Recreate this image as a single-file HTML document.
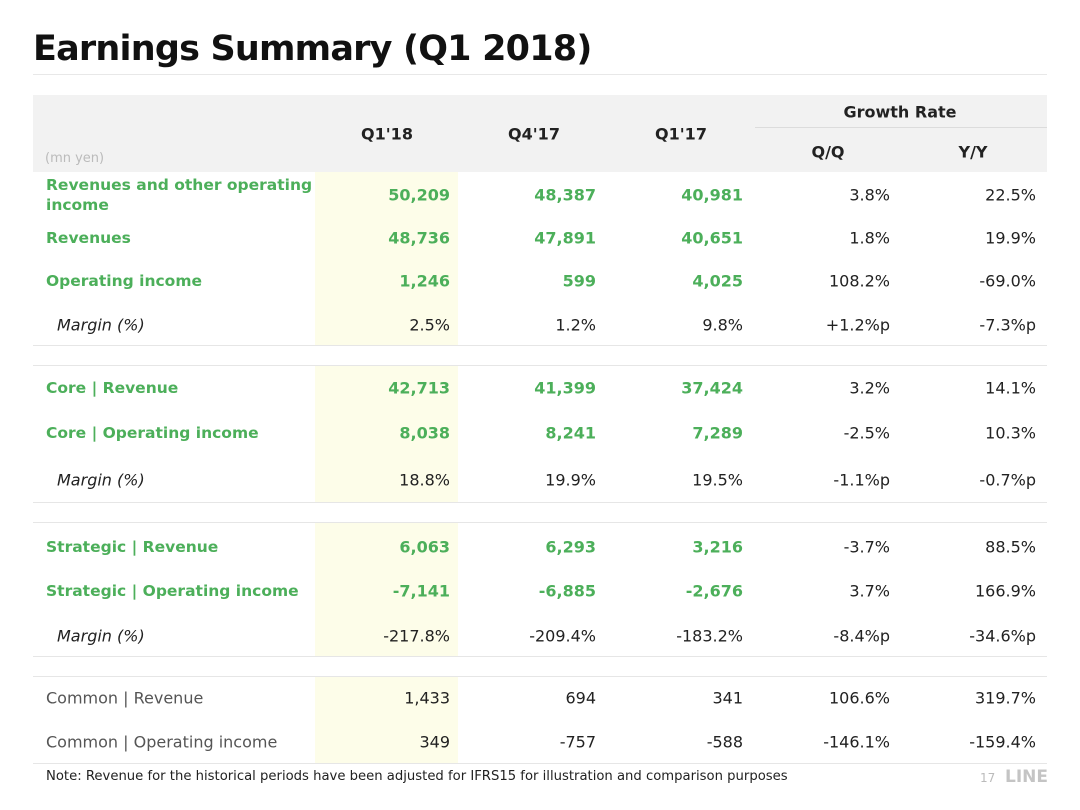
<!DOCTYPE html>
<html><head><meta charset="utf-8"><style>
body{margin:0;width:1080px;height:810px;background:#fff;position:relative;overflow:hidden;font-family:"DejaVu Sans","Liberation Sans",sans-serif;}
.a{position:absolute;white-space:nowrap;}
.t{font-size:35px;font-weight:bold;left:33px;top:29px;color:#111;font-family:"DejaVu Sans",sans-serif;letter-spacing:-0.8px}
.hl{position:absolute;left:315px;width:143px;background:#fdfde9}
.ln{position:absolute;left:33px;width:1014px;height:1px;background:#e6e6e6}
.c{font-size:16px;color:#222;transform:translateY(-50%)}
.g{color:#4caf5a;font-weight:bold}
.h{font-size:16px;font-weight:bold;color:#222;transform:translate(-50%,-50%)}
</style></head><body>
<div class="a t">Earnings Summary (Q1 2018)</div>
<div class="a" style="left:33px;top:74px;width:1014px;height:1px;background:#e8e8e8"></div>
<div class="a" style="left:33px;top:95px;width:1014px;height:77px;background:#f2f2f2"></div>
<div class="a" style="left:755px;top:127px;width:292px;height:1px;background:#dcdcdc"></div>
<div class="a h" style="left:900px;top:112px">Growth Rate</div>
<div class="a h" style="left:387px;top:134px">Q1'18</div>
<div class="a h" style="left:534px;top:134px">Q4'17</div>
<div class="a h" style="left:681px;top:134px">Q1'17</div>
<div class="a h" style="left:828px;top:152px">Q/Q</div>
<div class="a h" style="left:973px;top:152px">Y/Y</div>
<div class="a" style="left:45px;top:151px;font-size:13px;color:#bbb">(mn yen)</div>
<div id="tbl"></div>
<div class="a" style="left:46px;top:769px;font-size:13.2px;color:#222">Note: Revenue for the historical periods have been adjusted for IFRS15 for illustration and comparison purposes</div>
<div class="a" style="left:980px;top:771px;font-size:12px;color:#bbb">17</div>
<div class="a" style="left:1005px;top:767px;font-size:17px;font-weight:bold;color:#c4c4c4">LINE</div>
<script>
const labels=["Revenues and other operating|income","Revenues","Operating income","Margin (%)","Core | Revenue","Core | Operating income","Margin (%)","Strategic | Revenue","Strategic  | Operating income","Margin (%)","Common | Revenue","Common | Operating income"];
const q118=["50,209","48,736","1,246","2.5%","42,713","8,038","18.8%","6,063","-7,141","-217.8%","1,433","349"];
const q417=["48,387","47,891","599","1.2%","41,399","8,241","19.9%","6,293","-6,885","-209.4%","694","-757"];
const q117=["40,981","40,651","4,025","9.8%","37,424","7,289","19.5%","3,216","-2,676","-183.2%","341","-588"];
const qq=["3.8%","1.8%","108.2%","+1.2%p","3.2%","-2.5%","-1.1%p","-3.7%","3.7%","-8.4%p","106.6%","-146.1%"];
const yy=["22.5%","19.9%","-69.0%","-7.3%p","14.1%","10.3%","-0.7%p","88.5%","166.9%","-34.6%p","319.7%","-159.4%"];
const kind=["g","g","g","m","g","g","m","g","g","m","n","n"];
const rowY=[195,238,281,325,388,433,480,547,591,636,698,742];
const bands=[[172,345],[365,502],[522,656],[676,763]];
const lines=[345,365,502,522,656,676,763];
const T=document.getElementById('tbl');
bands.forEach((b,i)=>{const d=document.createElement('div');d.className='hl';d.style.top=b[0]+'px';d.style.height=(b[1]-b[0])+'px';


T.appendChild(d);});
lines.forEach(y=>{const d=document.createElement('div');d.className='ln';d.style.top=y+'px';


T.appendChild(d);});
const cols=[[q118,450],[q417,596],[q117,743],[qq,890],[yy,1036]];
labels.forEach((l,i)=>{
 const d=document.createElement('div');d.className='a c'+(kind[i]=='g'?' g':'');
 d.style.top=rowY[i]+'px';
 d.style.left=(kind[i]=='m'?57:46)+'px';
 if(kind[i]=='m')d.style.fontStyle='italic';
 if(kind[i]=='n')d.style.color='#555';
 if(kind[i]=='g')d.style.fontSize='15.5px';
 d.innerHTML=l.indexOf('|income')>0?l.replace('|','<br>'):l;
 if(l.indexOf('|income')>0){d.style.lineHeight='20px';}
 
 
 T.appendChild(d);
 cols.forEach((c,j)=>{
  const e=document.createElement('div');e.className='a c'+(j<3&&kind[i]=='g'?' g':'');
  e.style.top=rowY[i]+'px';e.style.right=(1080-c[1])+'px';
  e.textContent=c[0][i];
  
  
  T.appendChild(e);
 });
});
</script>
</body></html>
